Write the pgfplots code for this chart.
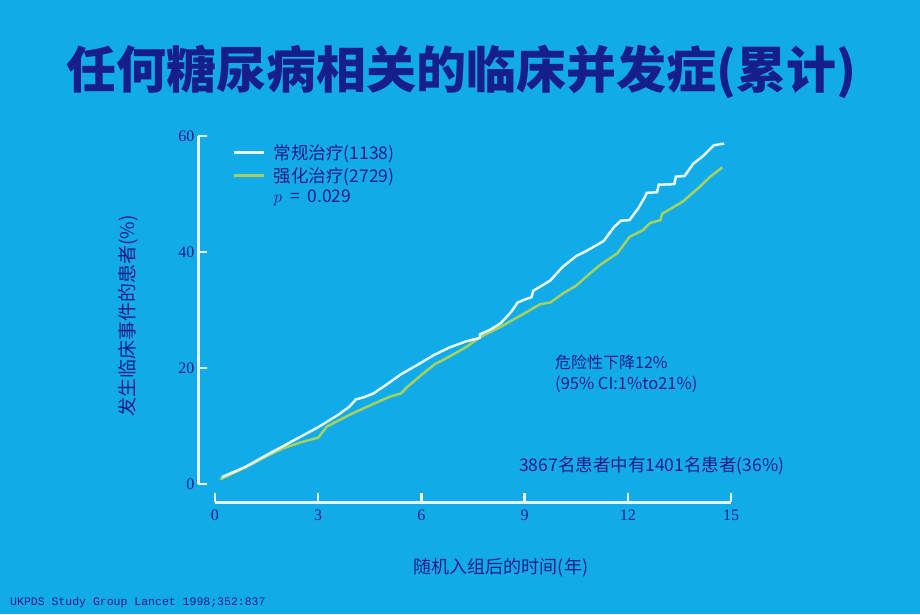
\documentclass[border=0pt]{standalone}
\usepackage{fontspec}
\setmainfont{Noto Sans CJK SC}
\newfontfamily\monofont{Liberation Mono}
\newfontfamily\seriffont{Liberation Serif}
\usepackage{pgfplots}
\pgfplotsset{compat=1.18}
\definecolor{bg}{RGB}{16,171,232}
\definecolor{navy}{RGB}{22,30,140}
\definecolor{wline}{RGB}{232,250,255}
\definecolor{gline}{RGB}{165,210,95}
\begin{document}
\begin{tikzpicture}[x=1pt,y=1pt]
\fill[bg] (0,0) rectangle (920,614);
\node[navy, font=\fontsize{50}{56}\selectfont\bfseries] at (461,542) {任何糖尿病相关的临床并发症(累计)};
\begin{axis}[
 at={(198pt,112pt)}, anchor=south west,
 scale only axis, width=533pt, height=366pt,
 xmin=-0.494, xmax=15, ymin=-3.1, ymax=60,
 axis lines*=left, axis line style={draw=none},
 xtick={0,3,...,15}, ytick={0,20,40,60},
 tick align=inside, major tick length=9pt,
 tick style={wline, line width=2.5pt},
 ticklabel style={navy, font=\seriffont\fontsize{16}{18}\selectfont},
 xticklabel style={yshift=-4pt},
 /pgf/number format/assume math mode=true,
 clip=false,
 legend style={at={(0.06,0.988)}, anchor=north west, draw=none, fill=none,
   font=\fontsize{17.5}{20}\selectfont, text=navy, row sep=2.5pt,
   /tikz/every odd column/.append style={column sep=6pt}},
 legend cell align=left,
 legend image code/.code={\draw[#1] (0pt,0pt) -- (30pt,0pt);},
]
\addlegendimage{wline, line width=2.5pt}
\addlegendentry{常规治疗(1138)}
\addlegendimage{gline, line width=2.5pt}
\addlegendentry{强化治疗(2729)}
\addlegendimage{empty legend}
\addlegendentry{$p$\ \ =\ \ 0.029}
\addplot[gline, line width=2.5pt, forget plot] coordinates {
(0.15,0.8)(0.9,2.9)(1.5,4.8)(2.0,6.2)(2.5,7.2)(3.0,8.0)(3.25,9.9)(3.9,11.9)(4.6,13.8)(5.1,15.1)(5.4,15.6)(5.6,16.8)(6.0,18.8)(6.4,20.7)(6.7,21.6)(7.3,23.6)(7.7,25.3)(8.3,27.1)(8.9,29.1)(9.45,31.0)(9.75,31.3)(10.1,32.8)(10.5,34.2)(10.8,35.8)(11.2,37.8)(11.7,39.8)(12.05,42.6)(12.45,43.8)(12.65,45.0)(12.95,45.5)(13.0,46.6)(13.6,48.7)(14.1,51.3)(14.4,53.0)(14.75,54.6)
};
\addplot[wline, line width=2.5pt, forget plot] coordinates {
(0.2,1.2)(0.9,3.0)(1.5,5.0)(2.0,6.6)(2.5,8.2)(3.0,9.8)(3.6,12.0)(3.9,13.3)(4.1,14.6)(4.35,15.0)(4.6,15.6)(5.0,17.2)(5.4,18.9)(5.9,20.6)(6.35,22.2)(6.8,23.5)(7.3,24.6)(7.7,25.2)(7.7,25.8)(8.0,26.6)(8.3,27.7)(8.6,29.6)(8.8,31.3)(9.0,31.8)(9.2,32.2)(9.25,33.3)(9.5,34.2)(9.75,35.1)(10.1,37.4)(10.5,39.3)(10.8,40.2)(11.3,41.9)(11.5,43.5)(11.6,44.3)(11.8,45.4)(12.05,45.5)(12.3,47.5)(12.5,49.5)(12.55,50.2)(12.85,50.3)(12.9,51.6)(13.35,51.7)(13.4,53.0)(13.65,53.1)(13.9,55.2)(14.2,56.6)(14.5,58.4)(14.8,58.7)
};
\draw[wline, line width=3pt] (axis cs:-0.494,0) -- (axis cs:-0.494,60);
\draw[wline, line width=3pt] (axis cs:0,-3.1) -- (axis cs:15,-3.1);
\end{axis}
\node[navy, rotate=90, font=\fontsize{19}{22}\selectfont] at (128,298) {发生临床事件的患者(\%)};
\node[navy, font=\fontsize{18}{21}\selectfont] at (501,46) {随机入组后的时间(年)};
\node[navy, anchor=west, inner sep=0pt, font=\fontsize{16}{19}\selectfont] at (555,252) {危险性下降12\%};
\node[navy, anchor=west, inner sep=0pt, font=\fontsize{16.5}{19}\selectfont] at (555,230) {(95\% CI:1\%to21\%)};
\node[navy, anchor=west, inner sep=0pt, font=\fontsize{17.5}{20}\selectfont] at (519,148) {3867名患者中有1401名患者(36\%)};
\node[navy, anchor=west, inner sep=0pt, font=\monofont\fontsize{11.5}{13}\selectfont] at (10,11) {UKPDS Study Group Lancet 1998;352:837};
\end{tikzpicture}
\end{document}
